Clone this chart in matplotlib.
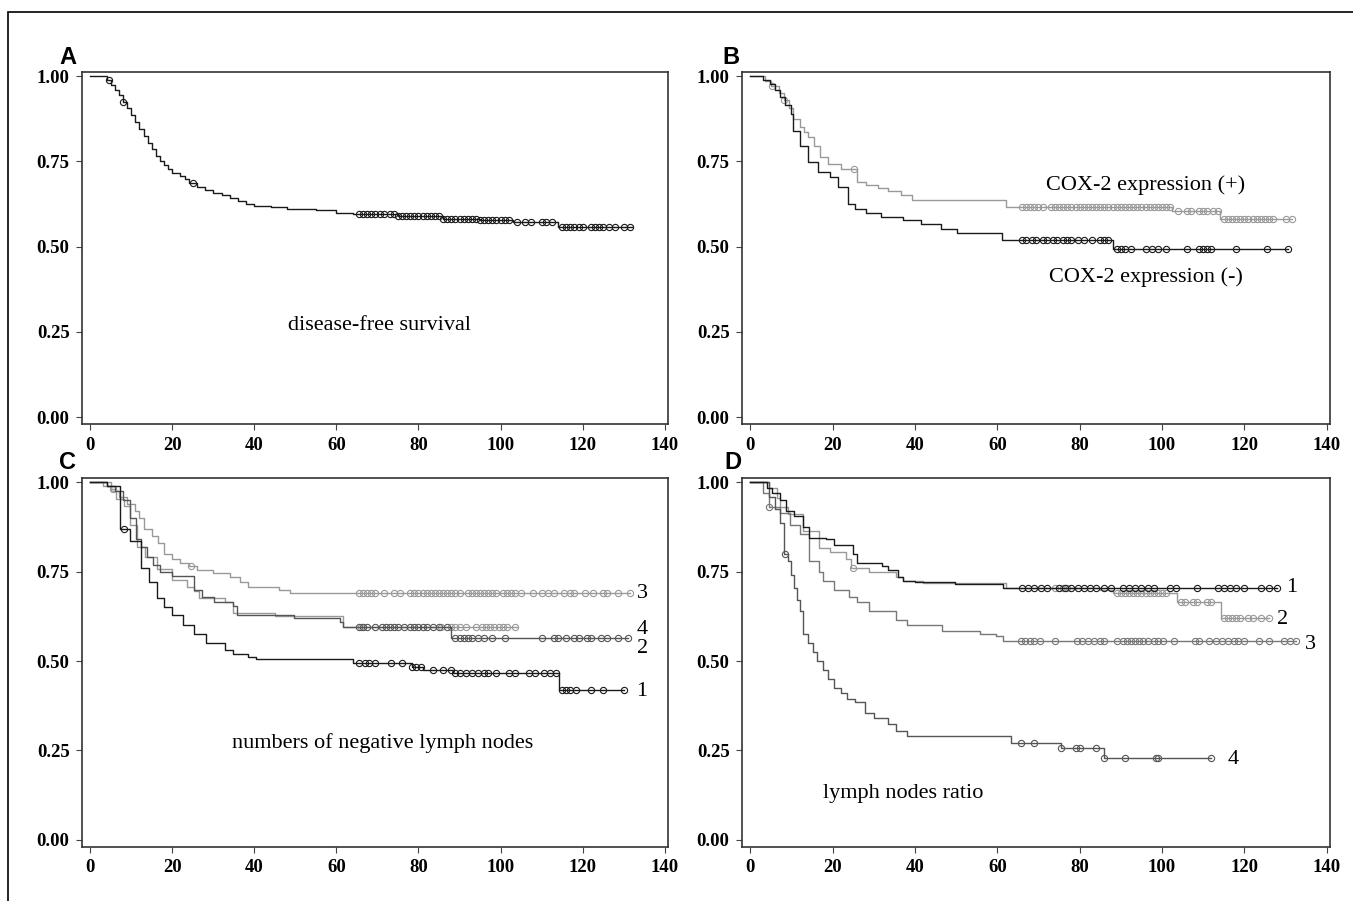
import numpy as np
import matplotlib
matplotlib.use('Agg')
import matplotlib.pyplot as plt
from matplotlib.patches import Rectangle

# ---- data (months, survival probability) ----
# A: disease-free survival, all patients
a_t = [0, 4, 5, 6, 7, 8, 9, 10, 11, 12, 13, 14, 15, 16, 17, 18, 19, 20, 22, 23, 24,
       26, 28, 30, 32, 34, 36, 38, 40, 44, 48, 55, 60, 64, 75, 86, 95, 103, 114]
a_s = [1.0, 0.99, 0.975, 0.96, 0.945, 0.925, 0.905, 0.885, 0.865, 0.845, 0.825, 0.805,
       0.785, 0.765, 0.75, 0.738, 0.727, 0.717, 0.706, 0.697, 0.688, 0.675, 0.665,
       0.657, 0.65, 0.643, 0.633, 0.625, 0.619, 0.615, 0.61, 0.606, 0.6, 0.595, 0.589,
       0.582, 0.578, 0.572, 0.557]
a_cens = [4.7, 8, 25, 65.5, 66.5, 67.5, 68.5, 69.5, 70.5, 71.5, 73, 74, 75, 76, 77, 78,
          79, 80, 81, 82, 83, 84, 85, 86, 87, 88, 89, 90, 91, 92, 93, 94, 95, 96, 97, 98,
          99, 100, 101, 102, 104, 106, 107.5, 110, 111, 112.5, 115, 116, 117, 118, 119,
          120, 122, 123, 124, 125, 126.5, 128, 130, 131.5]
a_end = 132

# B: COX-2 expression (+) gray, (-) black
bp_t = [0, 3.5, 5, 7, 8.3, 9.5, 10.5, 12, 13, 14, 15.5, 17, 18.8, 22, 26, 28, 31, 33.5,
        36.7, 39.2, 62, 102.5, 114]
bp_s = [1.0, 0.985, 0.97, 0.95, 0.93, 0.905, 0.875, 0.85, 0.835, 0.82, 0.795, 0.762,
        0.741, 0.728, 0.69, 0.68, 0.672, 0.664, 0.65, 0.638, 0.617, 0.605, 0.58]
bp_cens = [5.4, 8.3, 25.2, 66, 67, 68, 69, 70, 71, 73, 74, 75, 76, 77, 78, 79, 80, 81,
           82, 83, 84, 85, 86, 87, 88, 89, 90, 91, 92, 93, 94, 95, 96, 97, 98, 99, 100,
           101, 102, 104, 106, 107, 109, 110, 111, 112.5, 113.5, 115, 116, 117, 118,
           119, 120, 121, 122, 123, 124, 125, 126, 127, 130, 131.5]
bp_end = 131.5

bn_t = [0, 3, 4.9, 6, 7.3, 8.5, 9.8, 10.3, 12, 14, 16.4, 19.3, 21.3, 23.7, 25.5, 28.1,
        31.8, 37.2, 41.4, 46.3, 50.2, 61.2, 88.1]
bn_s = [1.0, 0.99, 0.976, 0.96, 0.94, 0.915, 0.888, 0.838, 0.794, 0.747, 0.718, 0.703,
        0.674, 0.624, 0.609, 0.6, 0.588, 0.579, 0.565, 0.553, 0.541, 0.518, 0.494]
bn_cens = [66, 67, 68.5, 69.5, 71, 72, 73.5, 74.5, 76, 77, 78, 79.5, 81, 83, 85, 86, 87,
           89, 90, 91, 92.5, 96, 97.5, 99, 101, 106, 109, 110, 111, 112, 118, 125.5,
           130.5]
bn_end = 130.5

# C: numbers of negative lymph nodes, groups 1-4
c1_t = [0, 4, 7.3, 9.7, 12.4, 14.3, 16.2, 18, 19.9, 22.7, 25.4, 28.3, 32.9, 34.7, 38.5,
        40.3, 64, 78.4, 81, 88.5, 114.2]
c1_s = [1.0, 0.99, 0.87, 0.835, 0.76, 0.72, 0.675, 0.65, 0.63, 0.6, 0.575, 0.55, 0.53,
        0.52, 0.51, 0.505, 0.495, 0.484, 0.474, 0.467, 0.418]
c1_cens = [8.3, 65.5, 67, 68, 69.5, 73.3, 76, 78.5, 79.5, 80.5, 83.5, 86, 88, 89, 90,
           91.5, 93, 94.5, 96, 97, 99, 102, 103.5, 107, 108.5, 110.5, 112, 113.5, 115,
           116, 117, 118.5, 122, 125, 130]
c1_end = 130

c2_t = [0, 4, 6, 8, 9.7, 11.1, 12.4, 13.8, 15.2, 17, 19.9, 25.4, 27.3, 30.1, 34.7, 35.7,
        49.7, 60.8, 61.7, 88]
c2_s = [1.0, 0.99, 0.975, 0.95, 0.9, 0.84, 0.82, 0.79, 0.77, 0.75, 0.737, 0.7, 0.68,
        0.665, 0.655, 0.63, 0.62, 0.61, 0.595, 0.565]
c2_cens = [65.5, 66.5, 67.5, 69.5, 71, 72, 73, 74, 75, 76.5, 78, 79, 80, 81, 82, 83.5,
           85, 87, 89, 90, 91, 92, 93, 94.5, 96, 98, 101, 110, 113, 114, 116, 118, 119,
           121, 122, 124.5, 126, 128.5, 131]
c2_end = 131

c3_t = [0, 3, 5, 7, 9, 11, 12, 13, 15, 16.5, 18, 20, 22, 24, 26, 30, 34, 36.5, 38.5, 46,
        48.7]
c3_s = [1.0, 0.99, 0.975, 0.96, 0.94, 0.92, 0.9, 0.87, 0.85, 0.83, 0.8, 0.785, 0.775,
        0.765, 0.755, 0.745, 0.735, 0.72, 0.708, 0.7, 0.69]
c3_cens = [24.5, 65.5, 66.5, 67.5, 68.5, 69.5, 71.5, 74, 75.5, 78, 79, 80, 81, 82, 83,
           84, 85, 86, 87, 88, 89, 90, 92, 93, 94, 95, 96, 97, 98, 99, 100.5, 101.5,
           102.5, 103.5, 105, 108, 110, 111.5, 113, 115.5, 117, 118, 120.5, 122.5, 125,
           126, 128.5, 131.5]
c3_end = 131.5

c4_t = [0, 5, 6.3, 8.3, 9.7, 11.5, 13.4, 16.2, 19.9, 23.6, 25.4, 26.4, 32.9, 34.7, 45,
        61.7]
c4_s = [1.0, 0.98, 0.953, 0.933, 0.88, 0.82, 0.79, 0.758, 0.727, 0.706, 0.696, 0.675,
        0.665, 0.634, 0.625, 0.595]
c4_cens = [5.5, 66, 85.5, 88, 89, 90, 91.5, 94, 95.5, 96.5, 97.5, 98.5, 99.5, 100.5,
           101.5, 103.5]
c4_end = 104

# D: lymph nodes ratio, groups 1-4
d1_t = [0, 4, 5.4, 7.3, 8.7, 10.6, 12.9, 14.3, 18.5, 20.4, 25, 26, 32, 33.5, 35.8, 37.2,
        40, 49.8, 61.5]
d1_s = [1.0, 0.985, 0.97, 0.95, 0.92, 0.905, 0.875, 0.845, 0.84, 0.825, 0.8, 0.775,
        0.765, 0.755, 0.735, 0.725, 0.722, 0.715, 0.705]
d1_cens = [66, 67.5, 69, 70.5, 72, 75, 76.5, 78, 79.5, 81, 82.5, 84, 86, 87.5, 90.5, 92,
           93.5, 95, 96.5, 98, 102, 103.5, 108.5, 113.5, 115, 116.5, 118, 120, 124, 126,
           128]
d1_end = 128

d2_t = [0, 4.5, 6.4, 7.3, 9.2, 12.9, 16.6, 19.4, 23.2, 24.5, 28.8, 35.3, 37.2, 42, 62,
        85, 88, 103.6, 114.3]
d2_s = [1.0, 0.985, 0.955, 0.93, 0.91, 0.865, 0.815, 0.805, 0.785, 0.76, 0.75, 0.735,
        0.725, 0.718, 0.705, 0.7, 0.69, 0.665, 0.62]
d2_cens = [25, 74, 76, 77, 89, 90, 91, 92, 93, 94, 95, 96, 97, 98, 99, 100, 101, 104.5,
           105.5, 107.5, 108.5, 111, 112, 115, 116, 117, 118, 119, 121, 122, 124, 126]
d2_end = 126

d3_t = [0, 3, 4.5, 7.3, 9.6, 12, 14.3, 16.6, 17.6, 20.4, 24.1, 26, 28.8, 35.3, 38.1,
        46.5, 55.9, 59.6, 61.5]
d3_s = [1.0, 0.97, 0.93, 0.915, 0.88, 0.855, 0.78, 0.75, 0.725, 0.7, 0.68, 0.665, 0.64,
        0.615, 0.6, 0.585, 0.577, 0.57, 0.555]
d3_cens = [4.5, 65.7, 66.8, 68, 69, 70.4, 74.1, 79.3, 80.5, 82, 83.5, 85, 86, 89, 90.5,
           91.5, 92.5, 93.5, 94.5, 95.5, 96.5, 98, 99, 100.3, 103, 108, 109, 111.5, 113,
           114.5, 116, 117.5, 118.5, 120, 123.6, 126, 129.7, 131, 132.5]
d3_end = 132.5

d4_t = [0, 4.5, 6, 7.3, 8.3, 9.2, 10, 10.6, 11.3, 12, 12.9, 14, 15.2, 16.3, 17.6, 19,
        20.4, 22, 23.5, 25.5, 27.8, 30, 33.5, 35.5, 38.1, 63.4, 75.5, 85.8]
d4_s = [1.0, 0.96, 0.925, 0.885, 0.8, 0.78, 0.74, 0.705, 0.67, 0.64, 0.575, 0.55, 0.525,
        0.5, 0.475, 0.45, 0.425, 0.41, 0.395, 0.385, 0.355, 0.34, 0.325, 0.305, 0.29,
        0.272, 0.257, 0.23]
d4_cens = [8.5, 65.7, 69, 75.5, 79, 80, 84, 85.8, 91, 98.5, 99, 111.8]
d4_end = 111.8

x_ticks = [0, 20, 40, 60, 80, 100, 120, 140]
y_ticks = [0.0, 0.25, 0.5, 0.75, 1.0]

BLACK = '#1a1a1a'
DARK = '#555555'
MID = '#777777'
LIGHT = '#999999'

W, H = 1353, 901
fig = plt.figure(figsize=(W / 100, H / 100), dpi=100)
fig.patch.set_facecolor('white')

# frame around whole figure (left and top edges visible)
fig.add_artist(Rectangle((8 / W, -0.1), 2, 1 - 12 / H + 0.1, transform=fig.transFigure,
                         fill=False, lw=1.2, ec='black'))


def make_axes(left, top, right, bottom):
    ax = fig.add_axes([left / W, 1 - bottom / H, (right - left) / W, (bottom - top) / H])
    ax.set_xlim(-2, 140.8)
    ax.set_ylim(-0.02, 1.012)
    ax.set_xticks(x_ticks)
    ax.set_yticks(y_ticks)
    ax.set_yticklabels(['%.2f' % v for v in y_ticks])
    ax.tick_params(direction='out', length=4, width=0.8, color='#444', pad=5)
    for lab in ax.get_xticklabels() + ax.get_yticklabels():
        lab.set_fontfamily('Liberation Serif')
        lab.set_fontweight('bold')
        lab.set_fontsize(13.5)
    for sp in ax.spines.values():
        sp.set_linewidth(1.2)
        sp.set_color('#333')
    return ax


def km(ax, t, s, cens, end, color):
    tt = list(t) + [end]
    ss = list(s) + [s[-1]]
    ax.step(tt, ss, where='post', color=color, lw=1.0)
    idx = np.searchsorted(t, cens, side='right') - 1
    ax.plot(cens, np.array(s)[idx], 'o', mfc='none', mec=color, ms=4.5, mew=0.8)


serif = 'Liberation Serif'

axA = make_axes(82, 72, 668, 424)
axB = make_axes(742, 72, 1330, 424)
axC = make_axes(82, 478, 668, 847)
axD = make_axes(742, 478, 1330, 847)

km(axA, a_t, a_s, a_cens, a_end, BLACK)
axA.text(70.6, 0.27, 'disease-free survival', fontsize=16, family=serif, ha='center', va='center')

km(axB, bp_t, bp_s, bp_cens, bp_end, LIGHT)
km(axB, bn_t, bn_s, bn_cens, bn_end, BLACK)
axB.text(96, 0.68, 'COX-2 expression (+)', fontsize=16, family=serif, ha='center', va='center')
axB.text(96, 0.41, 'COX-2 expression (-)', fontsize=16, family=serif, ha='center', va='center')

km(axC, c3_t, c3_s, c3_cens, c3_end, LIGHT)
km(axC, c4_t, c4_s, c4_cens, c4_end, LIGHT)
km(axC, c2_t, c2_s, c2_cens, c2_end, DARK)
km(axC, c1_t, c1_s, c1_cens, c1_end, BLACK)
for lab, yv in [('3', 0.69), ('4', 0.587), ('2', 0.535), ('1', 0.415)]:
    axC.text(134.5, yv, lab, fontsize=16, family=serif, ha='center', va='center')
axC.text(71.3, 0.27, 'numbers of negative lymph nodes', fontsize=16, family=serif,
         ha='center', va='center')

km(axD, d2_t, d2_s, d2_cens, d2_end, LIGHT)
km(axD, d3_t, d3_s, d3_cens, d3_end, MID)
km(axD, d4_t, d4_s, d4_cens, d4_end, DARK)
km(axD, d1_t, d1_s, d1_cens, d1_end, BLACK)
for lab, xv, yv in [('1', 131.6, 0.705), ('2', 129.3, 0.615), ('3', 136, 0.545), ('4', 117.3, 0.225)]:
    axD.text(xv, yv, lab, fontsize=16, family=serif, ha='center', va='center')
axD.text(37.2, 0.13, 'lymph nodes ratio', fontsize=16, family=serif, ha='center', va='center')

for lab, px, py in [('A', 68, 57), ('B', 731, 57), ('C', 68, 462), ('D', 733, 462)]:
    fig.text(px / W, 1 - py / H, lab, fontsize=17, fontweight='bold',
             family='Liberation Sans', ha='center', va='center')

fig.savefig('out.png', dpi=100)
